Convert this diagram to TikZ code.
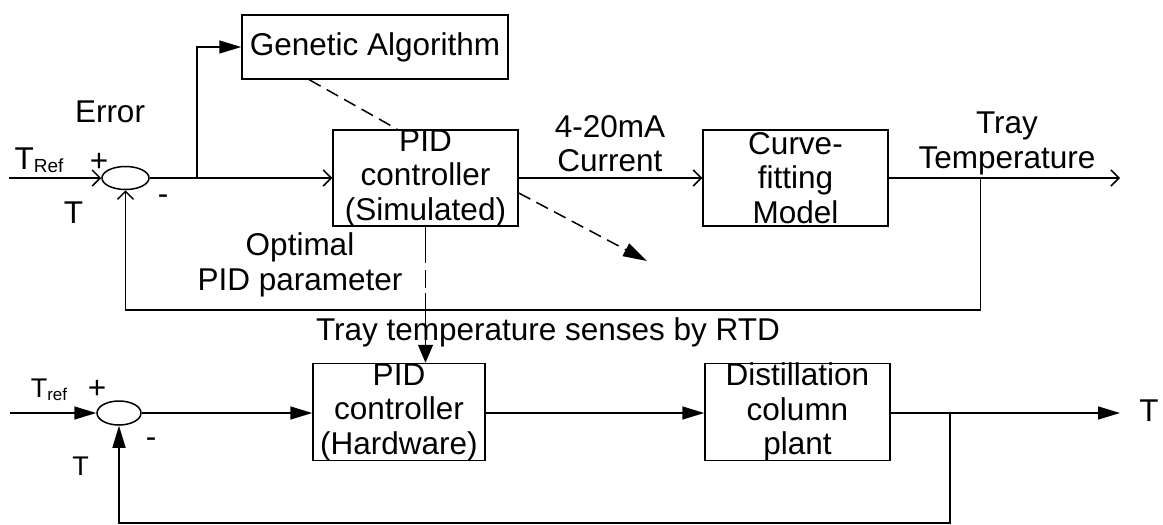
\documentclass[tikz,border=0pt]{standalone}
\usepackage{fontspec}
\setmainfont{Liberation Sans}
\usetikzlibrary{arrows.meta,shapes.geometric}
\begin{document}
\begin{tikzpicture}[x=1pt,y=-1pt,line width=1.5pt,
  lbl/.style={font=\fontsize{31.5}{34.5}\selectfont, inner sep=0pt, align=center},
  small/.style={font=\fontsize{27}{30}\selectfont, inner sep=0pt},
  blk/.style={draw, rectangle, inner sep=0pt},
  sumj/.style={draw, ellipse, inner sep=0pt},
  oa/.style={-{Straight Barb[length=8pt,width=16pt]}},
  fa/.style={-{Triangle[length=22pt,width=13pt]}},
  dsh/.style={dash pattern=on 13pt off 7pt}
]
\useasboundingbox (0,0) rectangle (1163,525);

% ---------------- upper loop: simulated tuning ----------------
\node[blk, lbl, minimum width=266pt, minimum height=64pt] (ga) at (375,47) {Genetic Algorithm};
\node[blk, minimum width=185pt, minimum height=96pt,
      label={[lbl]center:PID\\controller\\(Simulated)}] (pidsim) at (425.5,178) {};
\node[blk, minimum width=185pt, minimum height=96pt,
      label={[lbl]center:Curve-\\fitting\\Model}] (curve) at (795.5,178) {};
\node[sumj, minimum width=47pt, minimum height=23pt] (sum1) at (125.5,178) {};

\coordinate (in1) at (9,178);
\coordinate (br1) at (197,178);
\coordinate (out1) at (1120,178);
\coordinate (tap1) at (980.5,178);
\coordinate (fb1) at (980.5,310);
\coordinate (rtip) at (647,261);

\draw[oa] (in1) -- (sum1.west);
\draw[oa] (sum1.east) -- (pidsim.west);
\draw[fa] (br1) |- (ga.west);
\draw[oa] (pidsim.east) -- (curve.west);
\draw[oa] (curve.east) -- (out1);
\draw[oa] (tap1) -- (fb1) -| (sum1.south);
\draw[dsh] ([xshift=68pt]ga.south west) -- ([xshift=65pt]pidsim.north west);
\draw[dsh, -{Triangle[length=24pt,width=14pt]}] ([yshift=-15pt]pidsim.east) -- (rtip);

\node[lbl, anchor=base] (err) at (110,122) {Error};
\node[lbl, anchor=base] (tref1) at (39,169) {T{\fontsize{19}{19}\selectfont\raisebox{-3pt}{Ref}}};
\node[lbl] (plus1) at (99,162) {+};
\node[lbl, anchor=base] (tfb1) at (73.5,223) {T};
\node[lbl] (minus1) at (163,200) {-};
\node[lbl] (cur) at (610,143.5) {4-20mA\\Current};
\node[lbl] (tray) at (1007,143.5) {Tray\\Temperature};
\node[lbl] (opt) at (300,265) {Optimal\\PID parameter};
\node[lbl, anchor=base] (rtd) at (548,340) {Tray temperature senses by RTD};

% ---------------- lower loop: hardware ----------------
\node[blk, minimum width=172pt, minimum height=97pt,
      label={[lbl]center:PID\\controller\\(Hardware)}] (pidhw) at (399,412) {};
\node[blk, minimum width=185pt, minimum height=97pt,
      label={[lbl]center:Distillation\\column\\plant}] (dist) at (797.5,412) {};
\node[sumj, minimum width=44pt, minimum height=24pt] (sum2) at (119,413) {};

\coordinate (in2) at (10,413);
\coordinate (out2) at (1120,413);
\coordinate (tap2) at (950,413);
\coordinate (fb2) at (950,523);

\draw[fa] (in2) -- (sum2.west);
\draw[fa] (sum2.east) -- (pidhw.west |- sum2.east);
\draw[fa] (pidhw.east |- sum2.east) -- (dist.west |- sum2.east);
\draw[fa] (dist.east |- sum2.east) -- (out2);
\draw[fa] (tap2) -- (fb2) -| (sum2.south);
\draw[dash pattern=on 36pt off 7pt on 18pt off 5pt, -{Triangle[length=18pt,width=15pt]}]
  (pidsim.south) -- (pidsim.south |- pidhw.north);

\node[small, anchor=base] (tref2) at (49,397) {T{\fontsize{17}{17}\selectfont\raisebox{-3pt}{ref}}};
\node[lbl] (plus2) at (97,389) {+};
\node[lbl] (minus2) at (151,443) {-};
\node[small, anchor=base] (tfb2) at (80.5,475) {T};
\node[lbl, anchor=base] (tout) at (1149,421) {T};
\end{tikzpicture}
\end{document}
